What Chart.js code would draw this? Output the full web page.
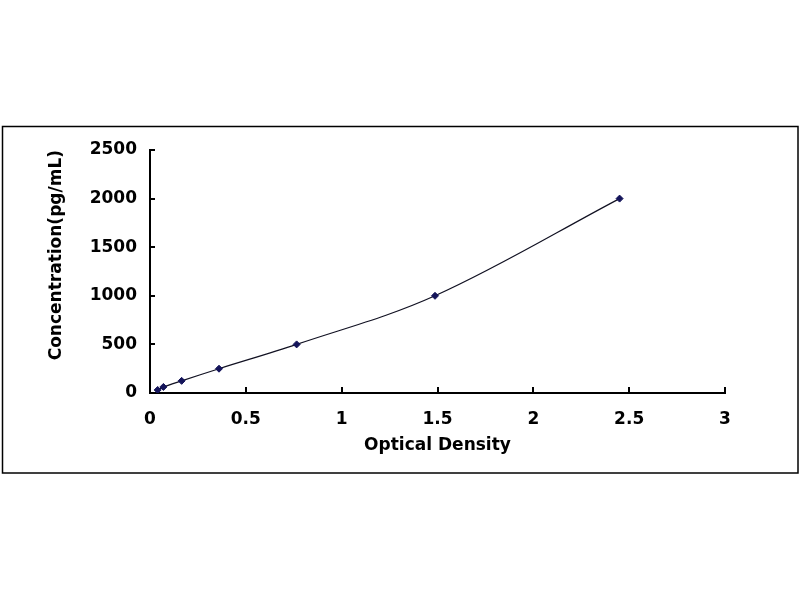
<!DOCTYPE html>
<html>
<head>
<meta charset="utf-8">
<script src="https://cdn.jsdelivr.net/npm/chart.js@4/dist/chart.umd.min.js"></script>
<style>
html,body{margin:0;padding:0;background:#fff;}
canvas{display:block;}
</style>
</head>
<body>
<canvas id="c" width="800" height="600"></canvas>
<script>
const odValues = [0.04, 0.07, 0.165, 0.36, 0.765, 1.487, 2.45];
const concValues = [31.25, 62.5, 125, 250, 500, 1000, 2000];
const xTicks = [0, 0.5, 1, 1.5, 2, 2.5, 3];
const yTicks = [0, 500, 1000, 1500, 2000, 2500];
const xTitle = 'Optical Density';
const yTitle = 'Concentration(pg/mL)';

const FONT = 'DejaVu Sans';

const frame = {
  id: 'frame',
  beforeDraw(chart) {
    const ctx = chart.ctx;
    ctx.save();
    ctx.fillStyle = '#fff';
    ctx.fillRect(0, 0, chart.width, chart.height);
    ctx.strokeStyle = '#000';
    ctx.lineWidth = 1.5;
    ctx.strokeRect(2.5, 126.5, 795.5, 346.5);
    ctx.restore();
  },
  afterDraw(chart) {
    const ctx = chart.ctx;
    const xs = chart.scales.x, ys = chart.scales.y;
    const a = chart.chartArea;
    ctx.save();
    ctx.strokeStyle = '#000';
    ctx.lineWidth = 2;
    ctx.beginPath();
    xs.ticks.forEach(t => {
      const px = Math.round(xs.getPixelForValue(t.value));
      ctx.moveTo(px, a.bottom);
      ctx.lineTo(px, a.bottom - 6);
    });
    ys.ticks.forEach(t => {
      const py = Math.round(ys.getPixelForValue(t.value));
      ctx.moveTo(a.left, py);
      ctx.lineTo(a.left + 5, py);
    });
    ctx.stroke();
    ctx.restore();
  }
};

new Chart(document.getElementById('c'), {
  type: 'scatter',
  data: {
    datasets: [{
      data: odValues.map((x, i) => ({x: x, y: concValues[i]})),
      showLine: true,
      borderColor: '#111122',
      borderWidth: 1.2,
      tension: 0.35,
      pointStyle: 'rectRot',
      pointRadius: 3.5,
      pointBackgroundColor: '#14145a',
      pointBorderColor: '#14145a',
      pointBorderWidth: 1
    }]
  },
  options: {
    responsive: false,
    animation: false,
    events: [],
    layout: { padding: { left: 38, top: 150, right: 75, bottom: 140 } },
    plugins: { legend: { display: false }, tooltip: { enabled: false } },
    scales: {
      x: {
        type: 'linear',
        min: 0, max: 3,
        afterBuildTicks: s => { s.ticks = xTicks.map(v => ({value: v})); },
        afterFit: s => { s.height = 67; },
        grid: { display: false },
        border: { display: true, color: '#000', width: 2 },
        ticks: {
          padding: 8,
          color: '#000',
          font: { family: FONT, size: 17, weight: 'bold' },
          callback: v => String(v)
        },
        title: {
          display: true, text: xTitle, color: '#000',
          font: { family: FONT, size: 17, weight: 'bold' },
          padding: { top: 0, bottom: 4 }
        }
      },
      y: {
        type: 'linear',
        min: 0, max: 2500,
        afterBuildTicks: s => { s.ticks = yTicks.map(v => ({value: v})); },
        afterFit: s => { s.width = 112; },
        grid: { display: false },
        border: { display: true, color: '#000', width: 2 },
        ticks: {
          padding: 5,
          color: '#000',
          font: { family: FONT, size: 17, weight: 'bold' },
          callback: v => String(v)
        },
        title: {
          display: true, text: yTitle, color: '#000', align: 'end',
          font: { family: FONT, size: 17, weight: 'bold' },
          padding: { top: 8, bottom: 0 }
        }
      }
    }
  },
  plugins: [frame]
});
</script>
</body>
</html>
